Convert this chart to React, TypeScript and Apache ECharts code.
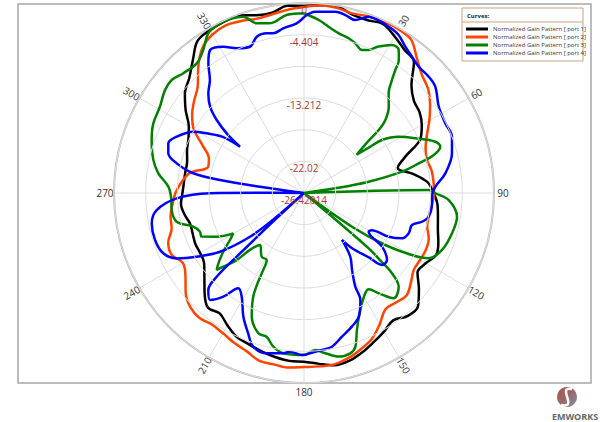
import React, { useEffect, useRef } from "react";
import * as echarts from "echarts";

// ---------- data ----------
const SERIES_NAMES = [
  "Normalized Gain Pattern [ port 1]",
  "Normalized Gain Pattern [ port 2]",
  "Normalized Gain Pattern [ port 3]",
  "Normalized Gain Pattern [ port 4]",
];
const SERIES_COLORS = ["#000000", "#ff4500", "#008000", "#0000ff"];

const ANGLE_TICKS = [30, 60, 90, 120, 150, 180, 210, 240, 270, 300, 330];
const ANGLE_LABELS = ["30", "60", "90", "120", "150", "180", "210", "240", "270", "300", "330"];

const R_MIN = -26.424;
const R_MAX = 0;
const R_STEP = 4.404;
const RADIUS_TICK_LABELS = ["-26.42014", "-22.02", "", "-13.212", "", "-4.404", "0"];

const STEP_ANGLES = [
  0, 5, 10, 15, 20, 25, 30, 35, 40, 45, 50, 55,
  60, 65, 70, 75, 80, 85, 90, 95, 100, 105, 110, 115,
  120, 125, 130, 135, 140, 145, 150, 155, 160, 165, 170, 175,
  180, 185, 190, 195, 200, 205, 210, 215, 220, 225, 230, 235,
  240, 245, 250, 255, 260, 265, 270, 275, 280, 285, 290, 295,
  300, 305, 310, 315, 320, 325, 330, 335, 340, 345, 350, 355,
  360,
];

const PORT1 = [
  -0.42, -0.21, -0.07, -0.7, -0.83, -0.49, -1.25, -2.09, -2.64, -5.29, -6.47, -6.81,
  -7.51, -8.55, -11.33, -12.93, -11.04, -9.18, -8.41, -7.79, -7.51, -7.15, -6.54, -6.12,
  -6.88, -7.16, -5.56, -4.03, -4.07, -4.8, -4.17, -3.53, -2.82, -2.24, -2.09, -2.57,
  -2.96, -2.99, -3.27, -3.62, -4.03, -4.32, -5.15, -5.98, -5.63, -6.87, -8.34, -9.46,
  -9.74, -9.74, -9.94, -10.01, -9.52, -9.25, -9.52, -9.66, -9.66, -9.6, -9.11, -8.69,
  -7.93, -6.33, -4.8, -3.85, -2.36, -0.61, -0.28, -0.14, -0.14, -0.83, -0.97, -0.28,
  -0.42,
];

const PORT2 = [
  -0.56, -0.21, -0.28, -0.56, -0.28, -0.14, -0.14, -0.42, -2.0, -3.22, -3.89, -5.01,
  -6.3, -7.58, -8.43, -8.72, -8.41, -8.34, -8.34, -8.55, -8.76, -8.69, -7.96, -7.72,
  -7.79, -7.79, -7.02, -6.26, -6.54, -6.68, -5.36, -4.06, -3.31, -2.64, -2.22, -2.22,
  -2.22, -2.05, -2.22, -2.29, -3.02, -3.44, -3.89, -4.1, -3.76, -4.03, -4.94, -6.3,
  -6.97, -6.12, -6.33, -7.37, -7.58, -8.06, -8.55, -9.32, -10.33, -12.59, -12.35, -10.9,
  -8.73, -7.43, -6.48, -5.52, -3.55, -1.79, -0.97, -0.7, -0.97, -1.32, -1.18, -0.83,
  -0.56,
];

const PORT3_ANGLES = [
  0, 4.9, 8.4, 12.3, 16.1, 18.9, 22.1, 24.3, 27, 30.7, 33.5, 35.5, 36.6, 37.9, 40.3,
  44.5, 48.1, 49.9, 51, 54, 55, 55.8, 59.3, 63.8, 68.7, 71.2, 73.7, 75.5, 77.7, 80.1,
  81.5, 85, 88.6, 90, 92.8, 98.8, 105.2, 112.4, 117.6, 119.9, 122.6, 125.1, 127.5,
  130.5, 131.5, 132.4, 134.7, 139.6, 143.3, 146.1, 148.6, 154.3, 158.9, 161.5, 163.9,
  168, 172.4, 175.9, 180, 187.4, 191.3, 194.6, 198, 202.9, 206, 207.2, 207.8, 209.1,
  213.6, 220.2, 223.5, 225.1, 227.6, 228.6, 230.6, 234, 237.6, 240.3, 243.4, 246.9,
  249.6, 253.1, 257.3, 262.7, 268, 272.7, 277.7, 282.4, 289.2, 294.8, 300.9, 306.5,
  310.5, 314.8, 320.4, 324.8, 329.1, 332.8, 337.2, 341, 344.4, 348.7, 354.4, 360,
];
const PORT3_VALUES = [
  -1.43, -2.28, -3.05, -3.7, -4.03, -4.42, -4.97, -4.59, -3.57, -2.47, -2.57, -3.71, -5.12, -6.51, -8.23,
  -9.61, -11.22, -12.84, -14.8, -17.38, -15.35, -13.31, -11.1, -9.18, -6.81, -6.4, -7.62, -9.94, -12.47, -17.29,
  -22.02, -26.42, -9.08, -8.21, -6.27, -4.89, -5.09, -5.66, -6.84, -9.11, -13.0, -18.27, -26.42,
  -14.74, -12.13, -9.86, -7.9, -7.19, -9.02, -10.29, -10.08, -8.37, -5.99, -3.89, -3.21,
  -3.16, -3.94, -4.53, -3.89, -3.95, -4.63, -5.77, -5.9, -7.75, -10.28, -12.25, -13.91, -15.76,
  -15.79, -16.95, -15.51, -13.21, -11.22, -10.24, -11.02, -12.55, -14.23, -15.1, -12.85, -10.96,
  -10.99, -10.33, -8.28, -7.87, -7.93, -7.54, -5.98, -4.97, -3.99, -3.34, -3.07, -2.37,
  -2.23, -2.78, -3.02, -2.1, -0.53, -0.14, -0.14, -0.49, -1.92, -2.35, -1.56, -1.43,
];

const PORT4_ANGLES = [
  0, 3.6, 9.8, 13.1, 16.5, 20.1, 23.4, 27, 30.9, 34.7, 38.4, 42.2, 47, 51, 57.4, 63.7,
  69.2, 75, 82.1, 87.3, 91.3, 94.6, 100.8, 103.7, 106.5, 111, 114.8, 117.3, 118.8, 120.9,
  124.5, 128.9, 132.7, 134.7, 139, 141, 144, 148, 151.3, 152.2, 156.1, 160.3, 165.2, 169.7,
  173.5, 175.9, 180.7, 185, 187.4, 193.1, 198.3, 201.7, 206.1, 211, 214.6, 217.9, 221.3,
  224.6, 226.2, 226.6, 227.3, 228, 229, 231, 235, 239.3, 242.8, 246.8, 252.5, 258.7,
  263.4, 267.6, 269.9, 270.3, 274, 278.1, 278.8, 280.1, 283.1, 286.3, 290.1, 293.9, 299,
  301.5, 304.5, 305.9, 307.5, 309.9, 312.6, 316.2, 320.2, 323.6, 326.7, 331.1, 335.1,
  339.7, 343.2, 346.9, 349.1, 352.8, 357.5, 360,
];
const PORT4_VALUES = [
  -1.95, -1.17, -0.83, -1.02, -1.34, -0.31, -0.28, -0.47, -0.81, -1.67, -2.24, -2.7, -2.71, -2.93, -4.17, -4.51,
  -4.41, -5.12, -6.58, -8.14, -8.62, -8.57, -8.78, -9.54, -10.76, -10.82, -11.4, -13.17, -15.7, -15.94,
  -13.25, -11.59, -11.67, -13.64, -16.24, -18.02, -15.48, -13.81, -11.57, -9.61, -7.61, -6.68, -5.76, -4.7,
  -4.45, -4.3, -3.89, -4.27, -3.95, -3.53, -3.92, -5.42, -7.26, -9.6, -10.32, -8.15, -6.62,
  -7.47, -9.6, -13.53, -20.86, -26.42, -21.39, -16.76, -12.17, -9.07, -6.52, -5.13, -4.7, -4.83,
  -5.8, -8.71, -13.35, -20.3, -26.42, -20.25, -14.6, -10.79, -8.25, -6.76, -6.33, -7.07, -8.83,
  -10.54, -12.6, -15.44, -13.02, -10.6, -8.68, -7.2, -5.98, -4.01, -2.63, -3.19, -4.23,
  -4.74, -3.71, -3.62, -3.81, -3.34, -2.8, -1.95,
];

// ---------- layout ----------
const CX = 304;
const CY = 193;
const RADIUS = 190;
const LABEL_R = 199;
const FONT = "'Open Sans', 'Noto Sans', sans-serif";
const LEGEND_BORDER = "#c8a27e";

function pairs(values: number[], angles: number[]) {
  return values.map((v, i) => [v, angles[i]]);
}

function angleLabelGraphics() {
  return ANGLE_TICKS.map((a, i) => {
    const rad = (a * Math.PI) / 180;
    let rotDeg = a <= 180 ? 90 - a : 270 - a;
    if (a === 180) rotDeg = 0;
    return {
      type: "text",
      x: CX + LABEL_R * Math.sin(rad),
      y: CY - LABEL_R * Math.cos(rad),
      rotation: (rotDeg * Math.PI) / 180,
      silent: true,
      style: {
        text: ANGLE_LABELS[i],
        fill: "#333",
        font: `10px ${FONT}`,
        align: "center",
        verticalAlign: "middle",
      },
    };
  });
}

export default function App() {
  const ref = useRef<HTMLDivElement>(null);

  useEffect(() => {
    if (!ref.current) return;
    const chart = echarts.init(ref.current, undefined, { renderer: "svg" });

    const dataSets = [
      pairs(PORT1, STEP_ANGLES),
      pairs(PORT2, STEP_ANGLES),
      pairs(PORT3_VALUES, PORT3_ANGLES),
      pairs(PORT4_VALUES, PORT4_ANGLES),
    ];

    chart.setOption({
      animation: false,
      backgroundColor: "#ffffff",
      polar: { center: [CX, CY], radius: RADIUS },
      angleAxis: {
        type: "value",
        min: 0,
        max: 360,
        interval: 30,
        startAngle: 90,
        clockwise: true,
        axisLine: { show: true, lineStyle: { color: "#bdbdbd", width: 2 } },
        axisTick: { show: false },
        axisLabel: { show: false },
        splitLine: { show: true, lineStyle: { color: "#dddddd", width: 1 } },
      },
      radiusAxis: {
        type: "value",
        min: R_MIN,
        max: R_MAX,
        interval: R_STEP,
        axisLine: { show: false },
        axisTick: { show: false },
        splitLine: { show: true, lineStyle: { color: "#dddddd", width: 1 } },
        axisLabel: {
          show: true,
          margin: 0,
          align: "center",
          verticalAlign: "top",
          color: "#a93636",
          fontSize: 10,
          fontFamily: FONT,
          padding: [2, 0, 0, 0],
          formatter: (v: number) => {
            const idx = Math.round((v - R_MIN) / R_STEP);
            return RADIUS_TICK_LABELS[idx] ?? "";
          },
        },
        z: 5,
      },
      legend: {
        orient: "vertical",
        left: 466,
        top: 25,
        icon: "rect",
        itemWidth: 22,
        itemHeight: 3,
        itemGap: 0,
        padding: 0,
        selectedMode: false,
        textStyle: { fontSize: 6, color: "#333", fontFamily: FONT, lineHeight: 8 },
        data: SERIES_NAMES,
      },
      series: dataSets.map((d, i) => ({
        type: "line",
        name: SERIES_NAMES[i],
        coordinateSystem: "polar",
        data: d,
        symbol: "none",
        showSymbol: false,
        smooth: 0.35,
        lineStyle: { color: SERIES_COLORS[i], width: 2.5 },
        itemStyle: { color: SERIES_COLORS[i] },
        z: 3,
      })),
      graphic: [
        {
          type: "rect",
          shape: { x: 18, y: 4, width: 573, height: 379 },
          style: { fill: "none", stroke: "#a6a6a6", lineWidth: 1.5 },
          silent: true,
        },
        {
          type: "rect",
          shape: { x: 462, y: 8, width: 121, height: 53 },
          style: { fill: "#ffffff", stroke: LEGEND_BORDER, lineWidth: 1 },
          silent: true,
        },
        {
          type: "line",
          shape: { x1: 462, y1: 22, x2: 583, y2: 22 },
          style: { stroke: LEGEND_BORDER, lineWidth: 1 },
          silent: true,
        },
        {
          type: "text",
          x: 467,
          y: 16,
          silent: true,
          style: {
            text: "Curves:",
            fill: "#222",
            font: `bold 6px ${FONT}`,
            verticalAlign: "middle",
          },
        },
        ...angleLabelGraphics(),
        {
          type: "circle",
          shape: { cx: 567, cy: 397, r: 10 },
          silent: true,
          style: {
            fill: new echarts.graphic.LinearGradient(0, 0, 1, 1, [
              { offset: 0, color: "#b0524c" },
              { offset: 0.5, color: "#9a6a6a" },
              { offset: 1, color: "#7f93a8" },
            ]),
          },
        },
        {
          type: "bezierCurve",
          shape: { x1: 572, y1: 389, cpx1: 556, cpy1: 386, cpx2: 579, cpy2: 409, x2: 561, y2: 405 },
          silent: true,
          style: { stroke: "#ffffff", lineWidth: 2.5, fill: "none" },
        },
        {
          type: "text",
          x: 575,
          y: 416,
          silent: true,
          style: {
            text: "EMWORKS",
            fill: "#666",
            font: `bold 9px ${FONT}`,
            align: "center",
            verticalAlign: "middle",
          },
        },
      ],
    });

    return () => chart.dispose();
  }, []);

  return (
    <div
      ref={ref}
      style={{ position: "absolute", left: 0, top: 0, width: 600, height: 422 }}
    />
  );
}
